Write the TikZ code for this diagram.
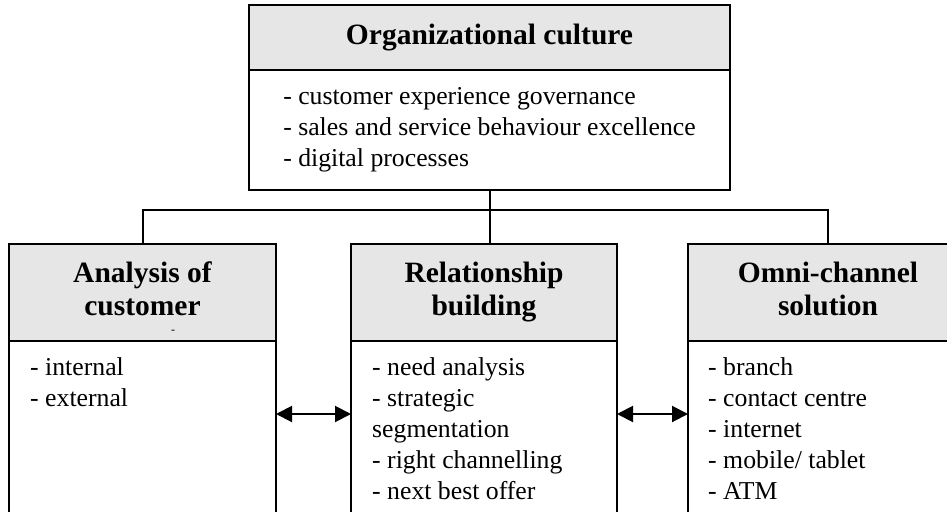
\documentclass[tikz,border=0pt]{standalone}
\usepackage{fontspec}
\setmainfont{Liberation Serif}
\usepackage{tikz}
\usetikzlibrary{positioning, arrows.meta}
\definecolor{cabeca}{HTML}{E6E6E6}

\begin{document}
\begin{tikzpicture}[x=1pt, y=-1pt,
    cabecalho/.style={draw, line width=2pt, fill=cabeca, align=center, inner sep=0pt, outer sep=0pt,
      font=\fontsize{29.5}{33}\selectfont\bfseries},
    corpo/.style={draw, line width=2pt, inner sep=0pt, outer sep=0pt},
    texto/.style={align=left, inner sep=0pt, anchor=north west, font=\fontsize{25.75}{31}\selectfont},
    seta/.style={{Triangle[length=16pt,width=16pt]}-{Triangle[length=16pt,width=16pt]}, line width=2pt},
    linha/.style={line width=2pt}]
    \path[use as bounding box, clip] (0,0) rectangle (947,511);

    % Caixa superior
    \node[cabecalho, minimum width=481pt, minimum height=65pt, anchor=north west] (culcab) at (249,5) {\strut Organizational culture};
    \node[corpo, minimum width=481pt, minimum height=120pt, below=0pt of culcab, align=left,
      font=\fontsize{25.75}{31}\selectfont] (culcorpo) {- customer experience governance\\- sales and service behaviour excellence\\- digital processes};

    % Primeira caixa
    \node[cabecalho, minimum width=267pt, minimum height=97pt, anchor=north west] (anacab) at (9,244) {\strut Analysis of\\\strut customer};
    \node[corpo, minimum width=267pt, minimum height=240pt, below=0pt of anacab] (anacorpo) {};
    \node[texto, below right=16pt and 21pt of anacorpo.north west] (anatexto) {- internal\\- external};
    \node[inner sep=0pt, font=\fontsize{12}{12}\selectfont] (anatraco) at (173,332) {-};

    % Segunda caixa
    \node[cabecalho, minimum width=266pt, minimum height=97pt, anchor=north west] (relcab) at (351,244) {\strut Relationship\\\strut building};
    \node[corpo, minimum width=266pt, minimum height=240pt, below=0pt of relcab] (relcorpo) {};
    \node[texto, below right=16pt and 21pt of relcorpo.north west] (reltexto) {- need analysis\\- strategic\\segmentation\\- right channelling\\- next best offer};

    % Terceira caixa
    \node[cabecalho, minimum width=280pt, minimum height=97pt, anchor=north west] (omnicab) at (688,244) {\strut Omni-channel\\\strut solution};
    \node[corpo, minimum width=280pt, minimum height=240pt, below=0pt of omnicab] (omnicorpo) {};
    \node[texto, below right=16pt and 20pt of omnicorpo.north west] (omnitexto) {- branch\\- contact centre\\- internet\\- mobile/ tablet\\- ATM};

    % Ligacoes
    \coordinate (barra) at (0,210);
    \coordinate (setas) at (0,414);
    \draw[linha] (culcorpo.south) -- (culcorpo.south |- relcab.north);
    \draw[linha] (anacab.north) -- (anacab.north |- barra) -- (omnicab.north |- barra) -- (omnicab.north);
    \draw[seta] (anacorpo.east |- setas) -- (relcorpo.west |- setas);
    \draw[seta] (relcorpo.east |- setas) -- (omnicorpo.west |- setas);
\end{tikzpicture}
\end{document}
